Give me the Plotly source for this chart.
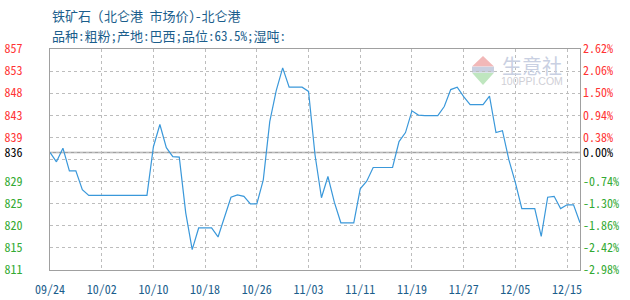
import plotly.graph_objects as go

# ---- data ----
dates = [
    "09/24", "09/25", "09/26", "09/27", "09/28", "09/29", "09/30",
    "10/01", "10/02", "10/03", "10/04", "10/05", "10/06", "10/07", "10/08", "10/09",
    "10/10", "10/11", "10/12", "10/13", "10/14", "10/15", "10/16", "10/17", "10/18",
    "10/19", "10/20", "10/21", "10/22", "10/23", "10/24", "10/25", "10/26", "10/27",
    "10/28", "10/29", "10/30", "10/31",
    "11/01", "11/02", "11/03", "11/04", "11/05", "11/06", "11/07", "11/08", "11/09",
    "11/10", "11/11", "11/12", "11/13", "11/14", "11/15", "11/16", "11/17", "11/18",
    "11/19", "11/20", "11/21", "11/22", "11/23", "11/24", "11/25", "11/26", "11/27",
    "11/28", "11/29", "11/30",
    "12/01", "12/02", "12/03", "12/04", "12/05", "12/06", "12/07", "12/08", "12/09",
    "12/10", "12/11", "12/12", "12/15", "12/16", "12/17",
]
prices = [
    835.5, 833.5, 836.4, 831.6, 831.6, 827.6, 826.4, 826.4, 826.4, 826.4,
    826.4, 826.4, 826.4, 826.4, 826.4, 826.4, 836.7, 841.4, 836.5, 834.6,
    834.5, 822.7, 814.9, 819.5, 819.5, 819.5, 817.6, 821.9, 826.0, 826.5,
    826.2, 824.6, 824.6, 829.7, 842.0, 848.6, 853.4, 849.3, 849.3, 849.3,
    848.4, 835.0, 825.9, 830.4, 824.9, 820.6, 820.6, 820.6, 827.8, 829.4,
    832.3, 832.3, 832.3, 832.3, 837.8, 839.7, 844.3, 843.4, 843.3, 843.3,
    843.3, 845.2, 848.8, 849.3, 847.3, 845.6, 845.6, 845.6, 847.4, 839.7,
    840.1, 833.9, 829.1, 823.6, 823.6, 823.6, 817.7, 826.0, 826.2, 823.6,
    824.4, 824.4, 820.6,
]
x_tick_labels = ["09/24", "10/02", "10/10", "10/18", "10/26", "11/03",
                 "11/11", "11/19", "11/27", "12/05", "12/15"]
pct_ticks = [2.62, 2.06, 1.50, 0.94, 0.38, 0.00, -0.18, -0.74, -1.30, -1.86, -2.42, -2.98]
price_labels = ["857", "853", "848", "843", "839", "836", "", "829", "825", "820", "815", "811"]
pct_labels = ["2.62%", "2.06%", "1.50%", "0.94%", "0.38%", "0.00%", "",
              "-0.74%", "-1.30%", "-1.86%", "-2.42%", "-2.98%"]

title = "铁矿石 (北仑港 市场价)-北仑港"
subtitle = "品种:粗粉;产地:巴西;品位:63.5%;湿吨:"

RED = "#ff3333"
GREEN = "#33aa33"
BLUE_TXT = "#1b5e8c"
LINE = "#3a98da"
GRID = "#bdbdbd"
AXIS = "#a0a0a0"
MONO = "Noto Sans Mono CJK SC, Noto Sans CJK SC, DejaVu Sans Mono, monospace"

base = prices[0]
tickvals = [base * (1 + p / 100.0) for p in pct_ticks]


def colorize(labels, pcts):
    out = []
    for lab, p in zip(labels, pcts):
        if lab == "":
            out.append("")
        elif p > 0:
            out.append(f"<span style='fill:{RED}'>{lab}</span>")
        elif p < 0:
            out.append(f"<span style='fill:{GREEN}'>{lab}</span>")
        else:
            out.append(f"<span style='fill:#000000'>{lab}</span>")
    return out


fig = go.Figure()
fig.add_trace(go.Scatter(x=dates, y=prices, mode="lines",
                         line=dict(color=LINE, width=1.2), hoverinfo="skip",
                         showlegend=False))
fig.add_trace(go.Scatter(x=dates, y=prices, mode="lines", yaxis="y2",
                         line=dict(color="rgba(0,0,0,0)", width=0), hoverinfo="skip",
                         showlegend=False))

fig.add_hline(y=base, line=dict(color=AXIS, width=1.5), layer="below")

yrange = [base * (1 + pct_ticks[-1] / 100.0), base * (1 + pct_ticks[0] / 100.0)]

fig.update_layout(
    width=630, height=300,
    margin=dict(l=50, r=50, t=49, b=30, autoexpand=False),
    paper_bgcolor="white", plot_bgcolor="white",
    font=dict(family=MONO, size=12, color="#000"),
    xaxis=dict(
        type="category", range=[0, len(dates) - 1], automargin=False,
        tickmode="array", tickvals=x_tick_labels, ticktext=x_tick_labels,
        showgrid=True, gridcolor=GRID, griddash="3px,3px", gridwidth=1,
        showline=True, linecolor=AXIS, linewidth=1, mirror=True,
        ticks="", ticklabelstandoff=9,
        tickfont=dict(family=MONO, size=12, color=BLUE_TXT),
        zeroline=False,
    ),
    yaxis=dict(
        range=yrange, tickmode="array", tickvals=tickvals, automargin=False,
        ticktext=colorize(price_labels, pct_ticks),
        showgrid=True, gridcolor=GRID, griddash="3px,3px", gridwidth=1,
        showline=True, linecolor=AXIS, linewidth=1, mirror=True,
        ticks="", ticklabelstandoff=24, zeroline=False,
        tickfont=dict(family=MONO, size=12),
    ),
    yaxis2=dict(
        overlaying="y", side="right", anchor="x", automargin=False,
        range=yrange, tickmode="array", tickvals=tickvals,
        ticktext=colorize(pct_labels, pct_ticks),
        showgrid=False, showline=False, ticks="", zeroline=False,
        ticklabelstandoff=2,
        tickfont=dict(family=MONO, size=12),
    ),
)

# title & subtitle
fig.add_annotation(text=title, xref="paper", yref="paper", x=0, y=(270 - 15) / 221,
                   xanchor="left", yanchor="middle", showarrow=False,
                   font=dict(family=MONO, size=13, color=BLUE_TXT))
fig.add_annotation(text=subtitle, xref="paper", yref="paper", x=0, y=(270 - 35) / 221,
                   xanchor="left", yanchor="middle", showarrow=False,
                   font=dict(family=MONO, size=13, color=BLUE_TXT))


# watermark (pixel -> paper helpers)
def px(xp):
    return (xp - 50) / 530.0


def py(yp):
    return (270 - yp) / 221.0


fig.add_shape(type="path", xref="paper", yref="paper",
              path=f"M {px(472)},{py(66.5)} L {px(483)},{py(56)} L {px(494)},{py(66.5)} Z",
              fillcolor="#f2b8b8", line=dict(width=0), layer="below")
fig.add_shape(type="path", xref="paper", yref="paper",
              path=f"M {px(472)},{py(72.7)} L {px(483)},{py(85)} L {px(494)},{py(72.7)} Z",
              fillcolor="#bfe6bf", line=dict(width=0), layer="below")
fig.add_shape(type="rect", xref="paper", yref="paper",
              x0=px(472), x1=px(494), y0=py(72.5), y1=py(66.7),
              fillcolor="#c9cfe0", line=dict(width=0), layer="below")
fig.add_annotation(text="生意社", xref="paper", yref="paper", x=px(532), y=py(65.5),
                   xanchor="center", yanchor="middle", showarrow=False,
                   font=dict(family="Noto Sans CJK SC", size=20, color="#c9d0e2"))
fig.add_annotation(text="100PPI.COM", xref="paper", yref="paper", x=px(532), y=py(80.5),
                   xanchor="center", yanchor="middle", showarrow=False,
                   font=dict(family="Liberation Sans", size=10.5, color="#cfcfd6"))

fig.write_html("out.html")
